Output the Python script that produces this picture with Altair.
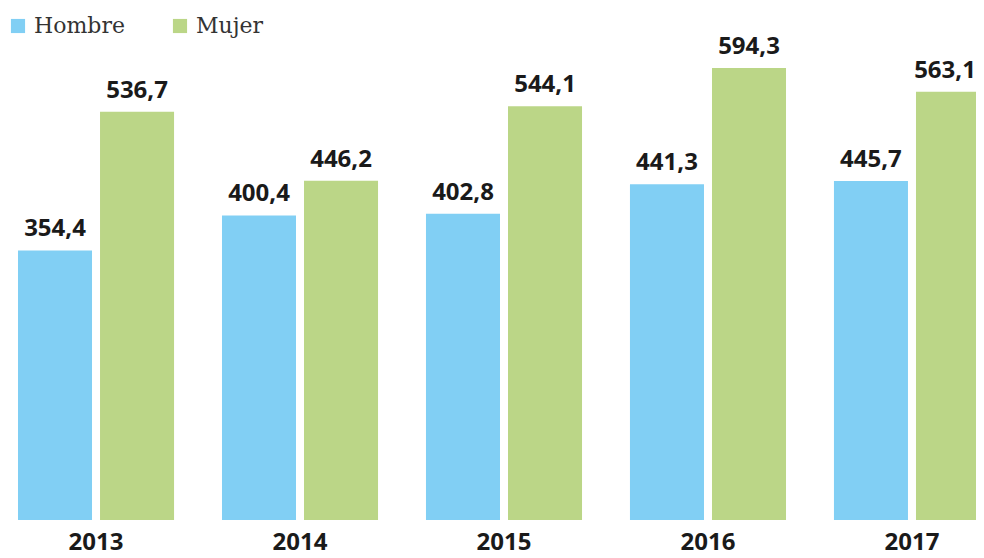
import altair as alt
import pandas as pd

years = ["2013", "2014", "2015", "2016", "2017"]
series = ["Hombre", "Mujer"]
hombre = [354.4, 400.4, 402.8, 441.3, 445.7]
mujer = [536.7, 446.2, 544.1, 594.3, 563.1]
colors = ["#81CFF4", "#BBD687"]

rows = []
for i, y in enumerate(years):
    for s, vals in zip(series, [hombre, mujer]):
        v = vals[i]
        rows.append({"year": y, "sexo": s, "value": v,
                     "label": f"{v:.1f}".replace(".", ",")})
df = pd.DataFrame(rows)

base = alt.Chart(df).encode(
    x=alt.X("year:N", sort=years,
            scale=alt.Scale(range=[0, 992], paddingInner=0.235, paddingOuter=0.049),
            axis=alt.Axis(title=None, labelAngle=0, ticks=False, domain=False,
                          labelFont="Open Sans", labelFontWeight="bold",
                          labelFontSize=24, labelColor="#1a1a1a", labelPadding=10)),
    xOffset=alt.XOffset("sexo:N", sort=series,
                        scale=alt.Scale(paddingInner=0.0976, paddingOuter=0)),
    y=alt.Y("value:Q", scale=alt.Scale(domain=[0, 673.2]), axis=None),
)

bars = base.mark_bar(clip=True).encode(
    color=alt.Color("sexo:N", sort=series,
                    scale=alt.Scale(domain=series, range=colors),
                    legend=alt.Legend(orient="none", legendX=-1, legendY=7, padding=0,
                                      direction="horizontal", title=None,
                                      symbolType="square", symbolSize=200,
                                      symbolStrokeWidth=0, symbolOpacity=1,
                                      labelFont="DejaVu Serif", labelFontSize=22,
                                      labelColor="#333333", labelOffset=5,
                                      columnPadding=44))
)

edge = "datum.year == '2017' && datum.sexo == 'Mujer'"
text_style = dict(font="Open Sans", fontWeight="bold", fontSize=24,
                  color="#1a1a1a", baseline="alphabetic", dy=-14)

labels = base.mark_text(**text_style).encode(text="label:N").transform_filter(
    "!(" + edge + ")")
labels_edge = base.mark_text(dx=-8, **text_style).encode(
    text="label:N").transform_filter(edge)

chart = (bars + labels + labels_edge).properties(
    width=968, height=512,
    autosize=alt.AutoSizeParams(type="none"),
    padding={"left": 0, "top": 0, "right": 0, "bottom": 30},
).configure_view(stroke=None)

chart.save("out.html", embed_options={"renderer": "svg", "actions": False})
